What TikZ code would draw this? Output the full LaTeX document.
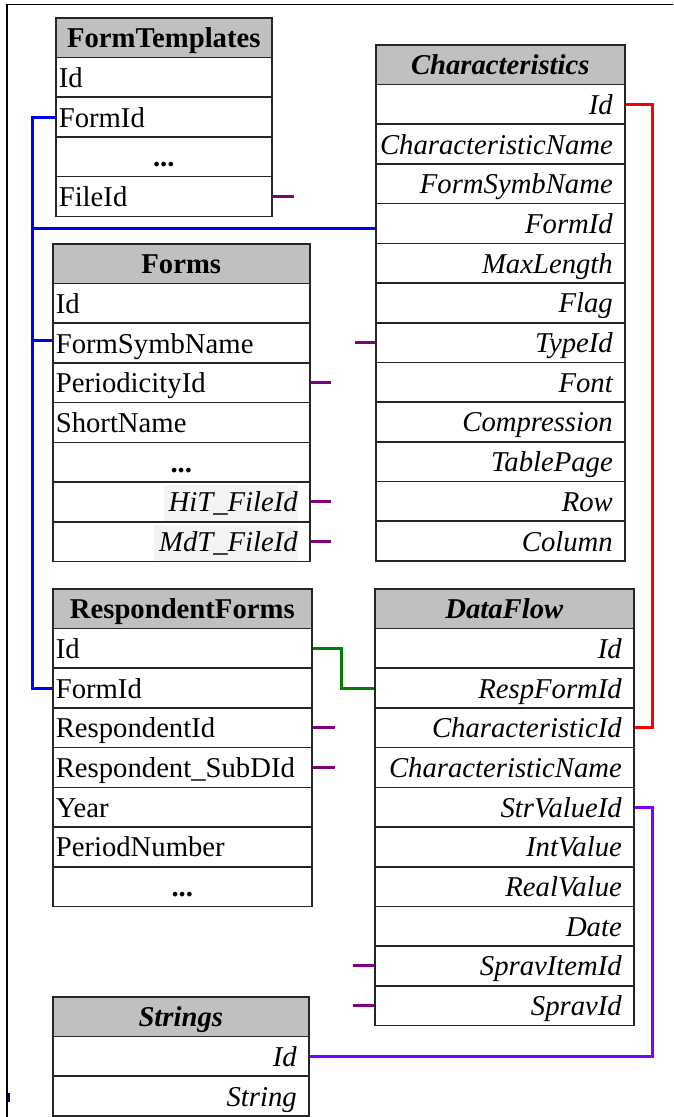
\documentclass[tikz,border=0pt]{standalone}
\usepackage{fontspec}
\setmainfont{Liberation Serif}

\definecolor{hdrgray}{RGB}{192,192,192}
\definecolor{hlgray}{RGB}{244,244,244}
\definecolor{linkblue}{RGB}{0,0,255}
\definecolor{linkred}{RGB}{255,0,0}
\definecolor{linkgreen}{RGB}{0,128,0}
\definecolor{stubpurple}{RGB}{128,0,128}
\definecolor{linkviolet}{RGB}{128,0,255}

\newcommand\cellfont{\fontsize{28.7}{32}\selectfont}
% light shading behind a field name
\newcommand\hlbox[1]{{\fboxsep=0pt\colorbox{hlgray}{\rule[-9pt]{0pt}{36pt}\,#1}}}
% elided fields
\newcommand\elided{...}
\def\rowh{39.7}

\tikzset{
  cell/.style={draw=black!85, line width=1.6pt, fill=white, anchor=north west,
    minimum height=\rowh pt, text height=25pt, text depth=5pt, inner ysep=0pt,
    font=\cellfont},
  lcell/.style={align=left, inner xsep=3pt, text width=\twl pt},
  rcell/.style={align=right, inner xsep=3pt, text width=\twl pt, font=\cellfont\itshape,
    execute at end node={\hspace*{9pt}}},
  ccell/.style={align=center, inner xsep=3pt, text width=\twl pt, font=\cellfont\bfseries},
  hcell/.style={fill=hdrgray, align=center, inner xsep=3pt, text width=\twl pt},
  cellkind/.code={\ifcase#1\relax\tikzset{lcell}\or\tikzset{rcell}\or\tikzset{ccell}\fi},
  link/.style={line width=3pt},
  stub/.style={line width=3pt, draw=stubpurple},
  frame/.style={line width=1.5pt, draw=black},
}

% #1 prefix, #2 left, #3 top, #4 width, #5 header, #6 rows (name/kind/text)
\newcommand\dbtable[6]{%
  \pgfmathsetmacro\twl{#4-6}%
  \node[cell, hcell, minimum width=#4pt] (#1-head) at (#2,#3) {#5};
  \foreach \nm/\k/\tx [count=\i] in {#6} {
    \node[cell, cellkind=\k, minimum width=#4pt] (#1-\nm) at (#2,{#3+\i*\rowh}) {\tx};
  }%
}

\begin{document}
\begin{tikzpicture}[x=1pt, y=-1pt]
\useasboundingbox (0,0) rectangle (673,1117);

% page frame
\draw[frame] (7,1117) -- (7,4.5) -- (673,4.5);
\draw[line width=1.5pt, draw=black!70!blue] (9,1093) -- (9,1102);

\dbtable{ft}{55}{17}{216}{\bfseries FormTemplates}{
  Id/0/Id, FormId/0/FormId, dots/2/\elided, FileId/0/FileId}

\dbtable{ch}{375}{44}{249}{\bfseries\itshape Characteristics}{
  Id/1/Id, CharacteristicName/1/CharacteristicName, FormSymbName/1/FormSymbName,
  FormId/1/FormId, MaxLength/1/MaxLength, Flag/1/Flag, TypeId/1/TypeId,
  Font/1/Font, Compression/1/Compression, TablePage/1/TablePage,
  Row/1/Row, Column/1/Column}

\dbtable{fm}{52}{243}{257}{\bfseries Forms}{
  Id/0/Id, FormSymbName/0/FormSymbName, PeriodicityId/0/PeriodicityId,
  ShortName/0/ShortName, dots/2/\elided, HiT/1/{\hlbox{HiT\_FileId}},
  MdT/1/{\hlbox{MdT\_FileId}}}

\dbtable{rf}{52}{588}{259}{\bfseries RespondentForms}{
  Id/0/Id, FormId/0/FormId, RespondentId/0/RespondentId,
  SubDId/0/Respondent\_SubDId, Year/0/Year, PeriodNumber/0/PeriodNumber,
  dots/2/\elided}

\dbtable{df}{374}{588}{259}{\bfseries\itshape DataFlow}{
  Id/1/Id, RespFormId/1/RespFormId, CharacteristicId/1/CharacteristicId,
  CharacteristicName/1/CharacteristicName, StrValueId/1/StrValueId,
  IntValue/1/IntValue, RealValue/1/RealValue, Date/1/Date,
  SpravItemId/1/SpravItemId, SpravId/1/SpravId}

\dbtable{st}{52}{996}{256}{\bfseries\itshape Strings}{
  Id/1/Id, String/1/String}

% bus lines of the connectors
\coordinate (bluebus) at (32,0);
\coordinate (greenbus) at (341,0);
\coordinate (rightbus) at (652,0);
% attachment points a little off the row middles
\coordinate (ch-FormId-in) at ([yshift=-5pt]ch-FormId.west);
\coordinate (fm-FormSymbName-in) at ([yshift=3pt]fm-FormSymbName.west);

% FormId links
\draw[link, linkblue] (ft-FormId.west) -- (ft-FormId.west -| bluebus)
  -- (bluebus |- rf-FormId.west) -- (rf-FormId.west);
\draw[link, linkblue] (bluebus |- ch-FormId-in) -- (ch-FormId-in);
\draw[link, linkblue] (bluebus |- fm-FormSymbName-in) -- (fm-FormSymbName-in);

% Characteristics.Id -> DataFlow.CharacteristicId
\draw[link, linkred] (ch-Id.east) -- (ch-Id.east -| rightbus)
  -- (rightbus |- df-CharacteristicId.east) -- (df-CharacteristicId.east);

% RespondentForms.Id -> DataFlow.RespFormId
\draw[link, linkgreen] (rf-Id.east) -- (rf-Id.east -| greenbus)
  -- (greenbus |- df-RespFormId.west) -- (df-RespFormId.west);

% DataFlow.StrValueId -> Strings.Id
\draw[link, linkviolet] (df-StrValueId.east) -- (df-StrValueId.east -| rightbus)
  -- (rightbus |- st-Id.east) -- (st-Id.east);

% outgoing references to tables not shown
\draw[stub] (ft-FileId.east) -- ++(21,0);
\draw[stub] (ch-TypeId.west) -- ++(-20,0);
\draw[stub] (fm-PeriodicityId.east) -- ++(20,0);
\draw[stub] (fm-HiT.east) -- ++(20,0);
\draw[stub] (fm-MdT.east) -- ++(20,0);
\draw[stub] (rf-RespondentId.east) -- ++(22,0);
\draw[stub] (rf-SubDId.east) -- ++(22,0);
\draw[stub] (df-SpravItemId.west) -- ++(-21,0);
\draw[stub] (df-SpravId.west) -- ++(-21,0);
\end{tikzpicture}
\end{document}
